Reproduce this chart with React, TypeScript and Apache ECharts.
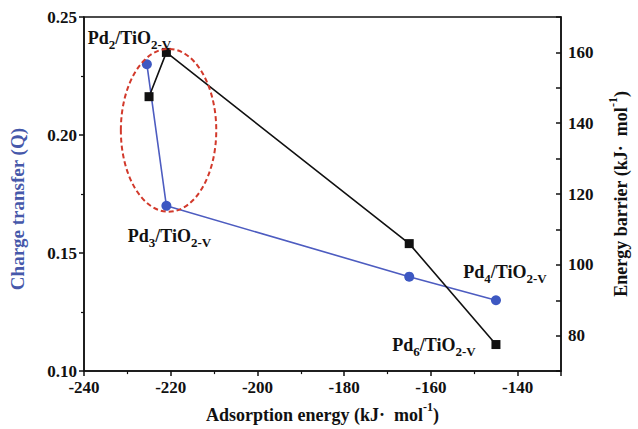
import { useEffect, useRef } from 'react';
import * as echarts from 'echarts';

const adsorptionEnergyQ = [-225.5, -221, -165, -145];
const chargeTransfer = [0.23, 0.17, 0.14, 0.13];
const adsorptionEnergyE = [-225, -221, -165, -145];
const energyBarrier = [147.5, 160, 106, 77.5];

const xTickLabels = [-240, -220, -200, -180, -160, -140];
const leftTickLabels = [0.1, 0.15, 0.2, 0.25];
const rightTickLabels = [80, 100, 120, 140, 160];

// cluster annotation: [cluster size, series ('Q' or 'E'), point index]
const clusterNames = ['2', '3', '4', '6'];
const clusterSeries = ['E', 'Q', 'Q', 'E'];
const clusterPoint = [1, 1, 3, 3];

// dashed ellipse around the Pd2/Pd3 region, in data units
const ellipseCenter = [-220.5, 0.202];
const ellipseRadius = [11, 0.0345];

const FONT = 'Liberation Serif';
const BLUE = '#3d58c2';
const BLUE_LINE = '#4d5cc0';
const BLUE_NAME = '#4658aa';

const labelOffsets: Record<string, number[]> = {
  '2': [-37, -14],
  '3': [3, 30],
  '4': [9, -28],
  '6': [-62, 0],
};

const richSub = {
  m: { fontFamily: FONT, fontWeight: 'bold', fontSize: 18, color: '#111', lineHeight: 18, verticalAlign: 'top' },
  s: { fontFamily: FONT, fontWeight: 'bold', fontSize: 13, color: '#111', lineHeight: 13, padding: [9, 0, 0, 0], verticalAlign: 'top' },
};

const richSup = (color: string) => ({
  n: { fontFamily: FONT, fontWeight: 'bold', fontSize: 18, color, lineHeight: 20, padding: [5, 0, 0, 0], verticalAlign: 'top' },
  sup: { fontFamily: FONT, fontWeight: 'bold', fontSize: 12, color, lineHeight: 12, verticalAlign: 'top' },
});

function buildData(xs: number[], ys: number[], key: string) {
  return xs.map((x, i) => {
    const k = clusterSeries.findIndex((s, j) => s === key && clusterPoint[j] === i);
    const item: any = { value: [x, ys[i]] };
    if (k >= 0) {
      const n = clusterNames[k];
      item.label = {
        show: true,
        position: 'inside',
        align: 'center',
        verticalAlign: 'middle',
        offset: labelOffsets[n],
        formatter: `{m|Pd}{s|${n}}{m|/TiO}{s|2-V}`,
        rich: richSub,
      };
    }
    return item;
  });
}

export default function App() {
  const ref = useRef<HTMLDivElement>(null);
  useEffect(() => {
    document.body.style.margin = '0';
    const chart = echarts.init(ref.current!, null, { renderer: 'svg' });
    const tickLabelStyle = { fontFamily: FONT, fontWeight: 'bold' as const, fontSize: 17, color: '#111' };
    chart.setOption({
      animation: false,
      backgroundColor: '#fff',
      textStyle: { fontFamily: FONT },
      grid: { left: 84, right: 65, top: 17, bottom: 56, show: true, borderColor: '#111', borderWidth: 1.5, backgroundColor: 'transparent' },
      xAxis: {
        type: 'value',
        min: -240,
        max: -130,
        interval: 20,
        name: '{n|Adsorption energy (kJ·  mol}{sup|-1}{n|)}',
        nameLocation: 'middle',
        nameGap: 24,
        nameTextStyle: { rich: richSup('#111') },
        axisLine: { show: true, onZero: false, lineStyle: { color: '#111', width: 1.5 } },
        axisTick: { show: true, inside: false, length: 5, lineStyle: { color: '#111', width: 1.5 } },
        minorTick: { show: true, splitNumber: 2, length: 3, lineStyle: { color: '#111', width: 1.2 } },
        splitLine: { show: false },
        axisLabel: {
          ...tickLabelStyle,
          margin: 8,
          formatter: (v: number) => (xTickLabels.includes(Math.round(v)) ? String(Math.round(v)) : ''),
        },
      },
      yAxis: [
        {
          type: 'value',
          min: 0.1,
          max: 0.25,
          interval: 0.05,
          position: 'left',
          name: 'Charge transfer (Q)',
          nameLocation: 'middle',
          nameGap: 57,
          nameTextStyle: { fontFamily: FONT, fontWeight: 'bold', fontSize: 19, color: BLUE_NAME, padding: [0, 0, 0, -30] },
          axisLine: { show: true, onZero: false, lineStyle: { color: '#111', width: 1.5 } },
          axisTick: { show: true, inside: false, length: 5, lineStyle: { color: '#111', width: 1.5 } },
          minorTick: { show: true, splitNumber: 2, length: 3, lineStyle: { color: '#111', width: 1.2 } },
          splitLine: { show: false },
          axisLabel: {
            ...tickLabelStyle,
            margin: 7,
            formatter: (v: number) => {
              const r = Math.round(v * 100) / 100;
              return leftTickLabels.some((t) => Math.abs(t - r) < 1e-6) ? r.toFixed(2) : '';
            },
          },
        },
        {
          type: 'value',
          min: 70,
          max: 170,
          interval: 10,
          position: 'right',
          name: '{n|Energy barrier (kJ·  mol}{sup|-1}{n|)}',
          nameLocation: 'middle',
          nameGap: 46,
          nameTextStyle: { rich: richSup('#111') },
          axisLine: { show: true, onZero: false, lineStyle: { color: '#111', width: 1.5 } },
          axisTick: { show: true, inside: true, length: 5, lineStyle: { color: '#111', width: 1.5 } },
          splitLine: { show: false },
          axisLabel: {
            ...tickLabelStyle,
            margin: 7,
            formatter: (v: number) => (rightTickLabels.includes(Math.round(v)) ? String(Math.round(v)) : ''),
          },
        },
      ],
      series: [
        {
          type: 'line',
          name: 'Charge transfer',
          yAxisIndex: 0,
          data: buildData(adsorptionEnergyQ, chargeTransfer, 'Q'),
          symbol: 'circle',
          symbolSize: 10,
          itemStyle: { color: BLUE },
          lineStyle: { color: BLUE_LINE, width: 1.6 },
          z: 3,
        },
        {
          type: 'line',
          name: 'Energy barrier',
          yAxisIndex: 1,
          data: buildData(adsorptionEnergyE, energyBarrier, 'E'),
          symbol: 'rect',
          symbolSize: 9,
          itemStyle: { color: '#111' },
          lineStyle: { color: '#111', width: 1.6 },
          z: 4,
        },
      ],
    });
    const c = chart.convertToPixel({ xAxisIndex: 0, yAxisIndex: 0 }, ellipseCenter) as number[];
    const px = chart.convertToPixel({ xAxisIndex: 0, yAxisIndex: 0 }, [ellipseCenter[0] + ellipseRadius[0], ellipseCenter[1] + ellipseRadius[1]]) as number[];
    chart.setOption({
      graphic: [
        {
          type: 'ellipse',
          shape: { cx: c[0], cy: c[1], rx: Math.abs(px[0] - c[0]), ry: Math.abs(c[1] - px[1]) },
          style: { fill: 'none', stroke: '#d2392b', lineWidth: 2, lineDash: [5, 3] },
          z: 10,
        },
      ],
    });
    return () => chart.dispose();
  }, []);
  return <div ref={ref} style={{ position: 'absolute', left: 0, top: 0, width: 638, height: 429 }} />;
}
